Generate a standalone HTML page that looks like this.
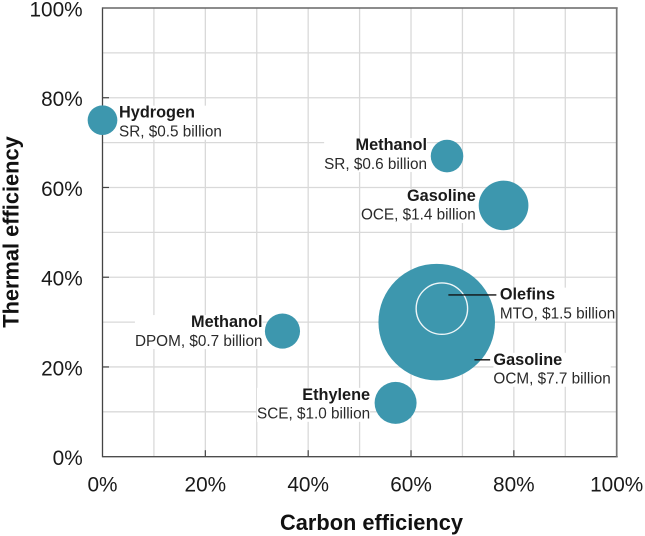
<!DOCTYPE html>
<html lang="en">
<head>
<meta charset="utf-8">
<title>Carbon and thermal efficiency bubble chart</title>
<style>
html,body{margin:0;padding:0;background:#fff;width:645px;height:536px;overflow:hidden}
svg{display:block;font-family:"Liberation Sans",Arial,sans-serif;filter:blur(.35px)}
</style>
</head>
<body>
<svg id="chart" width="645" height="536" viewBox="0 0 645 536" xmlns="http://www.w3.org/2000/svg">
<text x="371.5" y="530" text-anchor="middle" font-size="21.8" font-weight="700" fill="#111">Carbon efficiency</text>
<text transform="translate(18.5 232) rotate(-90)" text-anchor="middle" font-size="21.8" font-weight="700" fill="#111">Thermal efficiency</text>
</svg>
<script>
const products = ['Hydrogen', 'Methanol', 'Gasoline', 'Olefins', 'Gasoline', 'Methanol', 'Ethylene'];
const routes = ['SR', 'SR', 'OCE', 'MTO', 'OCM', 'DPOM', 'SCE'];
const carbonEfficiency = [0, 67, 78, 66, 65, 35, 57];
const thermalEfficiency = [75, 67, 56, 33, 30, 28, 12];
const costBillion = [0.5, 0.6, 1.4, 1.5, 7.7, 0.7, 1.0];
const tickLabels = [0, 20, 40, 60, 80, 100];
const gridLines = [10, 20, 30, 40, 50, 60, 70, 80, 90];

const svg = document.getElementById('chart');
const NS = 'http://www.w3.org/2000/svg';
const X0 = 102.5, X1 = 616.7, Y0 = 456.7, Y1 = 8;
const xScale = v => X0 + (X1 - X0) * v / 100;
const yScale = v => Y0 - (Y0 - Y1) * v / 100;
const rScale = v => 21 * Math.sqrt(v);

function make(tag, attrs, parent) {
  const el = document.createElementNS(NS, tag);
  for (const k in attrs) el.setAttribute(k, attrs[k]);
  (parent || svg).appendChild(el);
  return el;
}

const first = svg.firstElementChild;

gridLines.forEach(g => {
  const v = make('line', {x1: xScale(g), x2: xScale(g), y1: Y1, y2: Y0, stroke: '#d9d9d9', 'stroke-width': 1.3});
  
  
  const h = make('line', {x1: X0, x2: X1, y1: yScale(g), y2: yScale(g), stroke: '#d9d9d9', 'stroke-width': 1.3});
  
  
});

const axisLeft = make('line', {x1: X0, x2: X0, y1: Y1 - 0.6, y2: Y0 + 0.6, stroke: '#444', 'stroke-width': 1.3});


const axisBottom = make('line', {x1: X0, x2: X1 + 1, y1: Y0, y2: Y0, stroke: '#4d4d4d', 'stroke-width': 1.4});


const axisTop = make('line', {x1: X0, x2: X1 + 1, y1: Y1, y2: Y1, stroke: '#666', 'stroke-width': 1.4});


const axisRight = make('line', {x1: X1, x2: X1, y1: Y1, y2: Y0, stroke: '#777', 'stroke-width': 1.7});



tickLabels.forEach(t => {
  if (t > 0 && t < 100) {
    const xt = make('line', {x1: xScale(t), x2: xScale(t), y1: Y0, y2: Y0 - 6.5, stroke: '#444', 'stroke-width': 1.2});
    
    
    const yt = make('line', {x1: X0, x2: X0 + 6.5, y1: yScale(t), y2: yScale(t), stroke: '#444', 'stroke-width': 1.2});
    
    
  }
  const xl = make('text', {x: xScale(t), y: 491.7, 'text-anchor': 'middle', 'font-size': 20.8, fill: '#1a1a1a'});
  xl.textContent = t + '%';
  
  
  const yl = make('text', {x: 82.7, y: yScale(t) + 8.4, 'text-anchor': 'end', 'font-size': 20.8, fill: '#1a1a1a'});
  yl.textContent = t + '%';
  
  
});

// Bubbles, largest first so the smaller ones sit on top
const order = products.map((_, i) => i).sort((a, b) => costBillion[b] - costBillion[a]);
order.forEach(i => {
  const outlined = routes[i] === 'MTO';
  const c = make('circle', {
    cx: xScale(carbonEfficiency[i]),
    cy: yScale(thermalEfficiency[i]),
    r: rScale(costBillion[i]),
    fill: '#3d97ae',
    stroke: outlined ? '#eef6f8' : 'none',
    'stroke-width': outlined ? 1.4 : 0
  });
  
  
});

// Label placement relative to each bubble centre (annotation layout, by route)
const placement = {
  SR0: {a: 'start', dx: 16.5, dy: -2.5},
  SR1: {a: 'end', dx: -20, dy: -6},
  OCE: {a: 'end', dx: -27.8, dy: -4.4},
  MTO: {a: 'start', dx: 58, dy: -9},
  OCM: {a: 'start', dx: 56.7, dy: 42.7},
  DPOM: {a: 'end', dx: -20, dy: -4},
  SCE: {a: 'end', dx: -25.5, dy: -3}
};

products.forEach((name, i) => {
  const key = routes[i] === 'SR' ? 'SR' + (name === 'Hydrogen' ? 0 : 1) : routes[i];
  const p = placement[key];
  const cx = xScale(carbonEfficiency[i]);
  const cy = yScale(thermalEfficiency[i]);
  const lx = cx + p.dx, ly = cy + p.dy;
  const g = make('g', {});
  
  
  const bg = make('rect', {fill: '#fff'}, g);
  const t1 = make('text', {x: lx, y: ly, 'text-anchor': p.a, 'font-size': 16.3, 'font-weight': 700, fill: '#1a1a1a'}, g);
  t1.textContent = name;
  const t2 = make('text', {x: lx, y: ly + 18.7, 'text-anchor': p.a, 'font-size': 15.3, fill: '#2a2a2a'}, g);
  t2.textContent = routes[i] + ', $' + costBillion[i].toFixed(1) + ' billion';
  const w = Math.max(t1.getBBox().width, t2.getBBox().width);
  bg.setAttribute('x', p.a === 'end' ? lx - w : lx);
  bg.setAttribute('y', ly - 12);
  bg.setAttribute('width', w);
  bg.setAttribute('height', 34);
  if (routes[i] === 'MTO') {
    const leader = make('line', {x1: cx + 6.5, x2: lx - 3.5, y1: ly - 4.7, y2: ly - 4.7, stroke: '#111', 'stroke-width': 1.3}, g);
    
    
  }
  if (routes[i] === 'OCM') {
    const leader = make('line', {x1: lx - 19, x2: lx - 3.3, y1: ly - 5, y2: ly - 5, stroke: '#111', 'stroke-width': 1.3}, g);
    
    
  }
});

// Keep axis titles on top
svg.appendChild(first.nextElementSibling);
svg.appendChild(first);
</script>
</body>
</html>
